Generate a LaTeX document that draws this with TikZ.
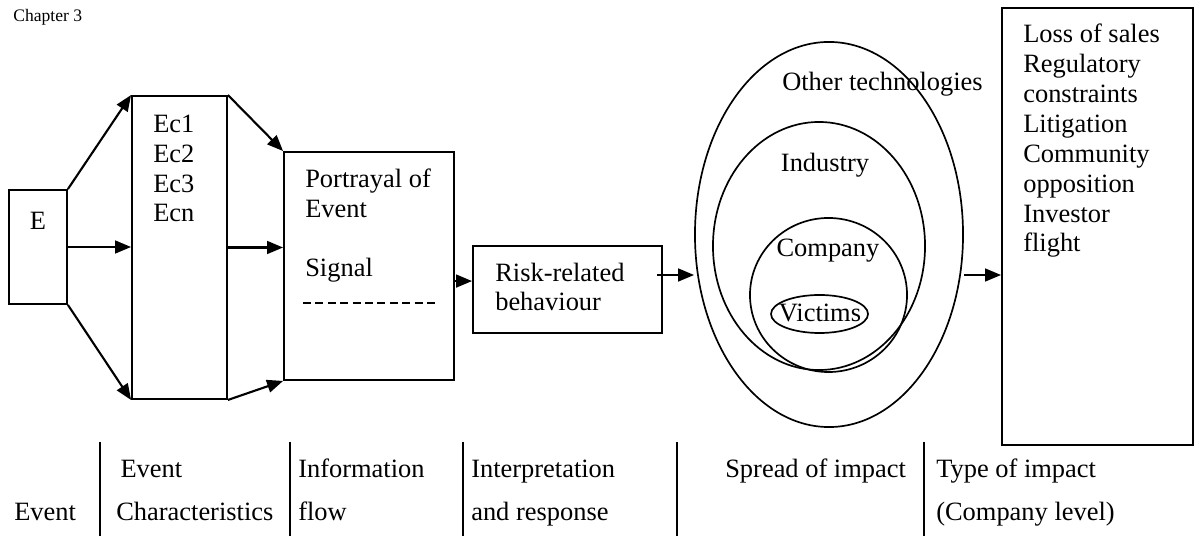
\documentclass[tikz,border=0pt]{standalone}
\usepackage{fontspec}
\setmainfont{Liberation Serif}
\usepackage{tikz}
\usetikzlibrary{arrows.meta,shapes.geometric}
\newcommand\figfont{\fontsize{18.8}{21.3}\selectfont}
\newcommand\stagefont{\fontsize{18.8}{29.9}\selectfont}
\tikzset{
  blk/.style={rectangle,draw,line width=1.3pt,inner sep=0pt},
  ring/.style={ellipse,draw,line width=1.2pt,inner sep=0pt},
  txt/.style={font=\figfont,align=left,inner sep=0pt,anchor=base west},
  stage/.style={font=\stagefont,align=left,inner sep=0pt,anchor=base west},
  flow/.style={line width=1.5pt,-{Triangle[length=4mm,width=3.2mm]}},
  sigline/.style={line width=1pt,dash pattern=on 0.2cm off 0.11cm},
  divider/.style={line width=1.1pt}
}

\begin{document}
\begin{tikzpicture}[x=0.025cm,y=-0.025cm]
  \useasboundingbox (0,0) rectangle (1202,536);
  \node[font=\fontsize{12.5}{15}\selectfont,inner sep=0pt,anchor=base west] (chap) at (13,22) {Chapter 3};

  % event and its characteristics (text anchored at last baseline)
  \node[blk,minimum width=1.45cm,minimum height=2.85cm] (E) at (38,247) {};
  \node[font=\figfont,inner sep=0pt] (Elab) at (38,221) {E};
  \node[blk,minimum width=2.375cm,minimum height=7.575cm] (Ec) at (179.5,247.5) {};
  \node[txt] (Eclab) at (153,222) {Ec1\\Ec2\\Ec3\\Ecn};
  \draw[flow] (E.north east) -- (Ec.north west);
  \draw[flow] (E.east) -- (E.east -| Ec.west);
  \draw[flow] (E.south east) -- (Ec.south west);

  % information flow
  \node[blk,minimum width=4.25cm,minimum height=5.7cm] (port) at (369,266) {};
  \node[txt] (portlab) at (305,277) {Portrayal of\\Event\\[21.3pt]Signal};
  \coordinate (sigL) at (303,303);
  \coordinate (sigR) at (438,303);
  \draw[sigline] (sigL) -- (sigR);
  \draw[flow] (Ec.north east) -- (port.north west);
  \draw[flow] (Ec.east) -- (Ec.east -| port.west);
  \draw[flow] (Ec.south east) -- (port.south west);

  % interpretation
  \node[blk,minimum width=4.725cm,minimum height=2.175cm] (risk) at (567.5,289.5) {};
  \node[txt] (risklab) at (495,311) {Risk-related\\behaviour};
  \draw[flow] ([yshift=6pt]port.east |- risk.west) -- ([yshift=6pt]risk.west);

  % spread of impact
  \node[ring,minimum width=6.7cm,minimum height=9.625cm] (outer) at (829,234.5) {};
  \node[ring,minimum width=5.3cm,minimum height=6.2cm] (ind) at (819,246) {};
  \node[ring,minimum width=3.925cm,minimum height=3.85cm] (comp) at (828.5,295) {};
  \node[ring,minimum width=2.425cm,minimum height=0.95cm] (vict) at (819.5,314) {};
  \node[txt] (outerlab) at (782,91) {Other technologies};
  \node[txt,anchor=base] (indlab) at (825,172) {Industry};
  \node[txt,anchor=base] (complab) at (828,257) {Company};
  \node[txt,anchor=base] (victlab) at (820,322) {Victims};
  \coordinate (lvl) at (0,275);
  \draw[flow] ([xshift=-4pt]risk.east |- lvl) -- (outer.west |- lvl);

  % type of impact
  \node[blk,minimum width=4.775cm,minimum height=10.925cm] (loss) at (1097.5,226.5) {};
  \node[txt] (losslab) at (1023,252) {Loss of sales\\Regulatory\\constraints\\Litigation\\Community\\opposition\\Investor\\flight};
  \draw[flow] (outer.east |- lvl) -- (loss.west |- lvl);

  % stages
  \draw[divider] (100,442) -- (100,536);
  \draw[divider] (290,442) -- (290,536);
  \draw[divider] (463,442) -- (463,536);
  \draw[divider] (677,442) -- (677,536);
  \draw[divider] (924,442) -- (924,536);
  \node[stage] (st1) at (14,520) {Event};
  \node[stage] (st2) at (116,520) {\hspace{3pt}Event\\Characteristics};
  \node[stage] (st3) at (298,520) {Information\\flow};
  \node[stage] (st4) at (471,520) {Interpretation\\and response};
  \node[stage] (st5) at (725,478) {Spread of impact};
  \node[stage] (st6) at (936,520) {Type of impact\\(Company level)};
\end{tikzpicture}
\end{document}
